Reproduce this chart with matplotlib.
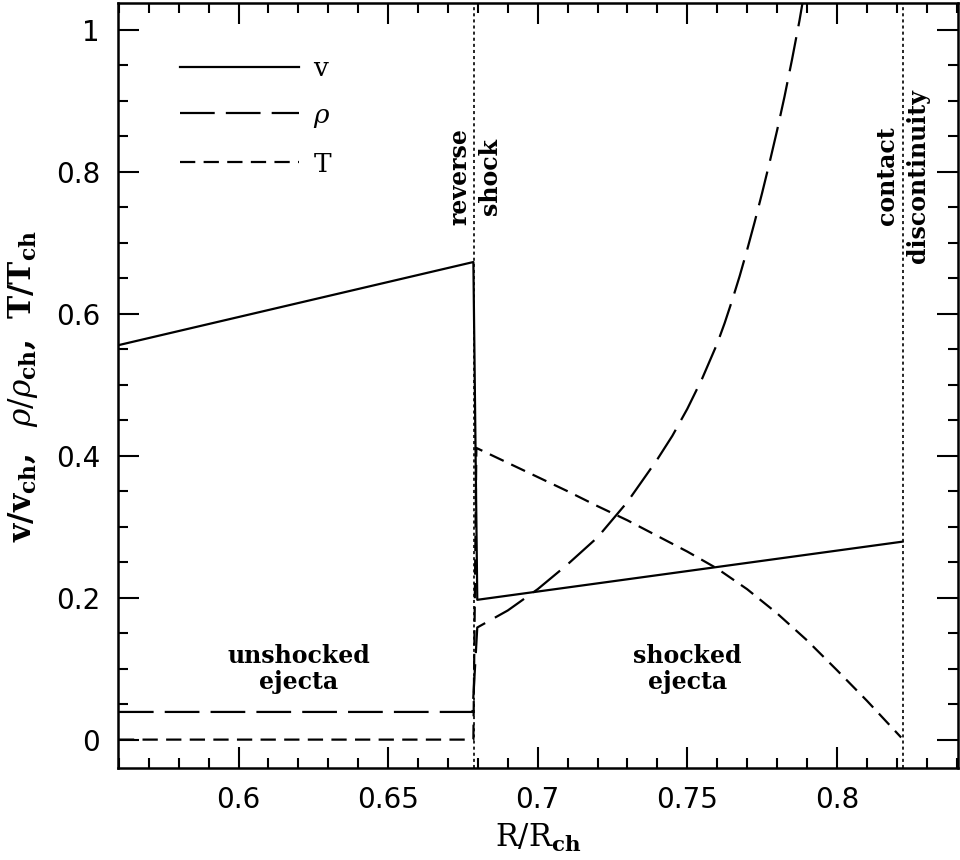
import matplotlib
matplotlib.use('Agg')
import matplotlib.pyplot as plt
from matplotlib.ticker import MultipleLocator

plt.rcParams['font.family'] = ['DejaVu Serif']
plt.rcParams['mathtext.fontset'] = 'dejavuserif'
plt.rcParams['lines.scale_dashes'] = False

# positions of the reverse shock and contact discontinuity
r_rs = 0.6788
r_cd = 0.8220

# velocity
v_r = [0.56, 0.6785, 0.6798, 0.822]
v_val = [0.556, 0.673, 0.197, 0.279]

# density
rho_r = [0.56, 0.6782, 0.6798, 0.690, 0.700, 0.710, 0.720, 0.730, 0.740,
         0.745, 0.750, 0.755, 0.760, 0.7625, 0.765, 0.7675, 0.770, 0.7725,
         0.775, 0.7775, 0.780, 0.7825, 0.785, 0.7875, 0.789]
rho_val = [0.039, 0.039, 0.158, 0.182, 0.212, 0.247, 0.285, 0.335, 0.395,
           0.428, 0.466, 0.509, 0.558, 0.587, 0.619, 0.653, 0.690, 0.729,
           0.770, 0.813, 0.858, 0.906, 0.958, 1.013, 1.05]

# temperature
T_r = [0.56, 0.6785, 0.6795, 0.690, 0.700, 0.710, 0.720, 0.730, 0.740,
       0.750, 0.760, 0.770, 0.780, 0.790, 0.800, 0.810, 0.8215]
T_val = [0.0, 0.0, 0.411, 0.390, 0.370, 0.350, 0.329, 0.309, 0.287,
         0.265, 0.241, 0.212, 0.178, 0.140, 0.098, 0.055, 0.003]

fig = plt.figure(figsize=(9.6, 8.6), dpi=100)
ax = fig.add_axes([118/960, 1 - 768/860, 840/960, 765/860])

ax.plot(v_r, v_val, color='black', lw=1.6, label='v')
ax.plot(rho_r, rho_val, color='black', lw=1.6, dashes=(25, 8), label=r'$\rho$')
ax.plot(T_r, T_val, color='black', lw=1.6, dashes=(11, 6), label='T')

ax.axvline(r_rs, color='black', lw=1.2, dashes=(2.2, 2.2))
ax.axvline(r_cd, color='black', lw=1.2, dashes=(2.2, 2.2))

ax.set_xlim(0.5597, 0.8405)
ax.set_ylim(-0.04, 1.038)

ax.xaxis.set_major_locator(MultipleLocator(0.05))
ax.xaxis.set_minor_locator(MultipleLocator(0.01))
ax.yaxis.set_major_locator(MultipleLocator(0.2))
ax.yaxis.set_minor_locator(MultipleLocator(0.05))
ax.tick_params(which='both', direction='in', top=True, right=True, width=1.5)
ax.tick_params(which='major', length=15, pad=13, labelsize=20)
ax.tick_params(which='minor', length=7.5)
ax.set_xticks([0.6, 0.65, 0.7, 0.75, 0.8])
ax.set_xticklabels(['0.6', '0.65', '0.7', '0.75', '0.8'])
ax.set_yticks([0, 0.2, 0.4, 0.6, 0.8, 1.0])
ax.set_yticklabels(['0', '0.2', '0.4', '0.6', '0.8', '1'])
for lab in ax.get_xticklabels() + ax.get_yticklabels():
    lab.set_family('DejaVu Sans')
for sp in ax.spines.values():
    sp.set_linewidth(1.8)

ax.set_xlabel(r'$\mathrm{R/R}_{\mathbf{ch}}$', fontsize=22, labelpad=6)
ax.set_ylabel(r'$\mathbf{v/v_{ch},}\ \ \rho/\rho_{\mathbf{ch}}\mathbf{,}\ \ \mathbf{T/T_{ch}}$',
              fontsize=22.5, labelpad=11)

ax.legend(loc='upper left', bbox_to_anchor=(0.0738, 0.931), frameon=False,
          fontsize=19, handlelength=4.5, handletextpad=0.55, labelspacing=0.83,
          borderpad=0, borderaxespad=0)

ax.text(0.620, 0.099, 'unshocked\nejecta', ha='center', va='center',
        multialignment='center', fontsize=17, fontweight='bold', linespacing=1.1)
ax.text(0.750, 0.099, 'shocked\nejecta', ha='center', va='center',
        multialignment='center', fontsize=17, fontweight='bold', linespacing=1.1)
ax.text(r_rs, 0.794, 'reverse\nshock', ha='center', va='center', rotation=90,
        multialignment='center', fontsize=17, fontweight='bold', linespacing=1.35)
ax.text(r_cd, 0.794, 'contact\ndiscontinuity', ha='center', va='center', rotation=90,
        multialignment='center', fontsize=17, fontweight='bold', linespacing=1.35)

fig.savefig('out.png', dpi=100)
